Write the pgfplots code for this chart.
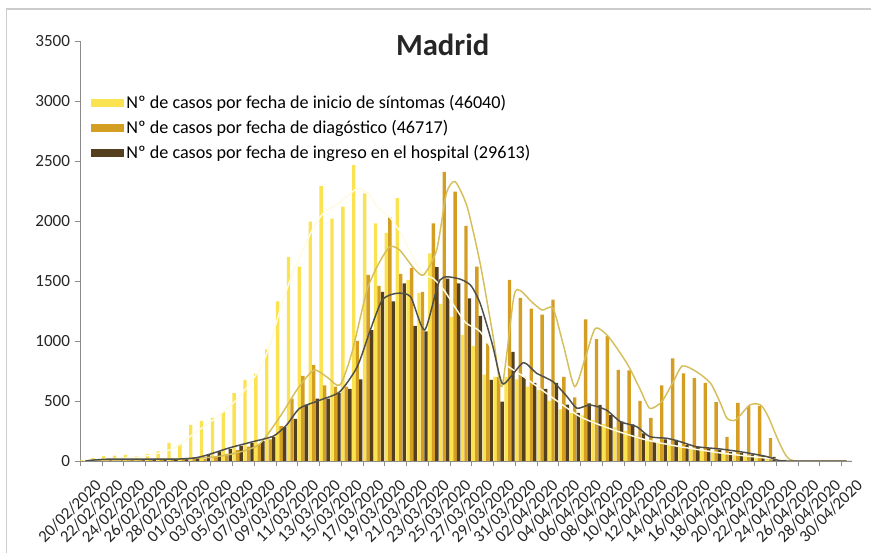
\documentclass[border=0pt]{standalone}
\usepackage{fontspec}
\setmainfont{Carlito}
\usepackage{pgfplots}
\usepackage{pgfplotstable}
\pgfplotsset{compat=1.18}

\definecolor{cSym}{RGB}{250,226,80}
\definecolor{cDiag}{RGB}{212,158,34}
\definecolor{cHosp}{RGB}{84,64,30}
\definecolor{lDiag}{RGB}{214,190,92}
\definecolor{lHosp}{RGB}{78,78,74}
\definecolor{lSym}{RGB}{255,251,226}

\pgfplotsset{sw/.style={legend image code/.code={\fill[##1] (0pt,-3pt) rectangle (25pt,3pt);}}}

% daily counts, i = days since 20/02/2020
\pgfplotstableread{
i sym diag hosp
0 10 0 5
1 25 10 15
2 40 5 10
3 45 5 10
4 50 10 10
5 40 10 15
6 60 15 15
7 80 15 15
8 150 20 15
9 140 20 20
10 300 30 30
11 335 20 50
12 360 40 80
13 410 60 100
14 565 90 125
15 675 120 150
16 725 140 165
17 930 180 200
18 1330 290 285
19 1700 520 350
20 1620 710 470
21 1995 800 520
22 2290 630 520
23 2020 620 565
24 2120 620 600
25 2465 1000 680
26 2230 1550 1090
27 1980 1460 1410
28 1900 2030 1330
29 2190 1560 1480
30 1510 1610 1125
31 1400 1410 1080
32 1730 1980 1615
33 1310 2410 1520
34 1200 2245 1480
35 1050 1960 1355
36 960 1620 1210
37 720 980 675
38 700 700 495
39 700 1510 910
40 680 1360 700
41 620 1270 650
42 590 1220 600
43 500 1345 650
44 430 700 470
45 400 530 400
46 380 1180 480
47 340 1015 467
48 310 1040 383
49 280 760 328
50 250 755 306
51 210 500 231
52 170 360 161
53 150 630 181
54 140 855 175
55 120 730 133
56 100 690 119
57 90 650 106
58 80 490 92
59 60 200 75
60 50 485 65
61 40 460 55
62 30 460 45
63 20 190 35
64 10 0 15
65 5 0 0
66 0 0 0
67 0 0 0
68 0 0 0
69 0 0 0
70 0 0 0
}\madrid

% trend lines
\pgfplotstableread{
x y
0 0
1 10
3 8
6 12
9 18
10 25
12 35
14 70
16 140
17.9 370
19.5 600
21.0 758
22.2 700
23.4 633
24.5 900
25.9 1425
27.0 1650
28.0 1786
28.9 1758
30.2 1606
31.1 1550
32.3 1758
33.2 2230
34.0 2328
35.1 2120
36.3 1647
37.5 1036
38.3 620
39.4 1369
40.0 1420
41.0 1330
42.0 1258
43.0 1272
44.0 950
45.0 619
46.0 870
46.9 1106
48.1 1036
49.8 814
51.0 600
51.9 439
53.0 494
54.0 650
54.9 792
56.2 744
57.5 647
58.4 481
59.0 356
59.8 342
61.1 467
62.1 467
62.8 369
63.7 175
64.5 36
65.4 0
70 0
}\trDiag

\pgfplotstableread{
x y
0 0
2 15
8 15
10 25
11.2 50
13.3 111
15.4 161
17.3 208
18.5 300
19.7 439
21.6 508
23.4 578
25.0 786
26.2 1092
27.3 1342
28.6 1397
29.9 1369
31.2 1092
32.6 1508
34.2 1522
35.4 1467
36.3 1314
37.4 980
38.3 650
39.1 700
40.3 820
41.5 731
43.0 661
44.3 536
45.2 440
46.4 467
47.9 425
49.2 328
50.7 286
51.9 203
53.5 189
54.7 161
56.2 119
58.4 100
60.8 69
62.7 36
63.6 8
64.5 0
70 0
}\trHosp

\pgfplotstableread{
x y
0 5
5 35
8 100
10 230
12 360
14 520
16 760
17 980
18 1290
19 1550
20 1760
21 1950
22 2080
23 2130
24 2200
25 2270
26 2230
27 2100
28 2030
29 1900
30 1720
31 1560
32 1520
33 1420
34 1280
35 1150
36.3 1078
38.1 842
40.3 703
42.4 564
45.5 369
48.6 258
51.6 175
54.7 119
58.4 67
62 30
65 5
70 0
}\trSym

\begin{document}
\begin{tikzpicture}
\useasboundingbox (0,0) rectangle (653.25pt,414.75pt);
\draw[black!20, line width=0.8pt] (5pt,0) -- (5pt,408pt) -- (653.25pt,408pt);
\begin{axis}[
  at={(60pt,69pt)}, anchor=south west,
  width=579pt, height=315pt, scale only axis,
  xmin=-0.5, xmax=70.5, ymin=0, ymax=3500,
  axis x line*=bottom, axis y line*=left,
  axis line style={-, draw=black!45, line width=0.7pt},
  tick align=outside,
  ytick={0,500,...,3500},
  y tick style={draw=black!45},
  major tick length=4pt,
  /pgf/number format/assume math mode=true,
  yticklabel style={font=\fontsize{12.8}{15}\selectfont, text=black!85,
    /pgf/number format/.cd, set thousands separator={}},
  xtick={0,2,...,70},
  xticklabels={20/02/2020,22/02/2020,24/02/2020,26/02/2020,28/02/2020,
    01/03/2020,03/03/2020,05/03/2020,07/03/2020,09/03/2020,11/03/2020,13/03/2020,
    15/03/2020,17/03/2020,19/03/2020,21/03/2020,23/03/2020,25/03/2020,27/03/2020,
    29/03/2020,31/03/2020,02/04/2020,04/04/2020,06/04/2020,08/04/2020,10/04/2020,
    12/04/2020,14/04/2020,16/04/2020,18/04/2020,20/04/2020,22/04/2020,24/04/2020,
    26/04/2020,28/04/2020,30/04/2020},
  x tick style={draw=none},
  xticklabel style={rotate=45, anchor=north east, font=\fontsize{12.6}{15}\selectfont,
    text=black!85, inner sep=0.5pt, yshift=-10pt, xshift=-1pt},
  extra x ticks={-0.5,1.5,...,69.5},
  extra x tick labels={},
  extra x tick style={x tick style={draw=black!45}},
  legend style={at={(0.014,0.878)}, anchor=north west, draw=none, fill=none,
    font=\fontsize{13.6}{16}\selectfont, row sep=3.4pt, inner xsep=0pt, inner ysep=0pt,
    nodes={inner xsep=1.5pt}},
  legend cell align=left,
]
\addplot[ybar, bar width=0.31, bar shift=-0.32, fill=cSym, draw=none, sw] table[x=i,y=sym]{\madrid};
\addlegendentry{Nº de casos por fecha de inicio de síntomas (46040)}
\addplot[ybar, bar width=0.31, bar shift=0, fill=cDiag, draw=none, sw] table[x=i,y=diag]{\madrid};
\addlegendentry{Nº de casos por fecha de diagóstico (46717)}
\addplot[ybar, bar width=0.31, bar shift=0.32, fill=cHosp, draw=none, sw] table[x=i,y=hosp]{\madrid};
\addlegendentry{Nº de casos por fecha de ingreso en el hospital (29613)}

\addplot[forget plot, smooth, tension=0.4, lSym, line width=1.1pt, no marks] table{\trSym};
\addplot[forget plot, smooth, tension=0.4, lDiag, line width=1.1pt, no marks] table{\trDiag};
\addplot[forget plot, smooth, tension=0.4, lHosp, line width=1.1pt, no marks] table{\trHosp};
\end{axis}
\node[font=\fontsize{23}{28}\selectfont\bfseries, text=black!85] at (332pt,381pt) {Madrid};
\end{tikzpicture}
\end{document}
